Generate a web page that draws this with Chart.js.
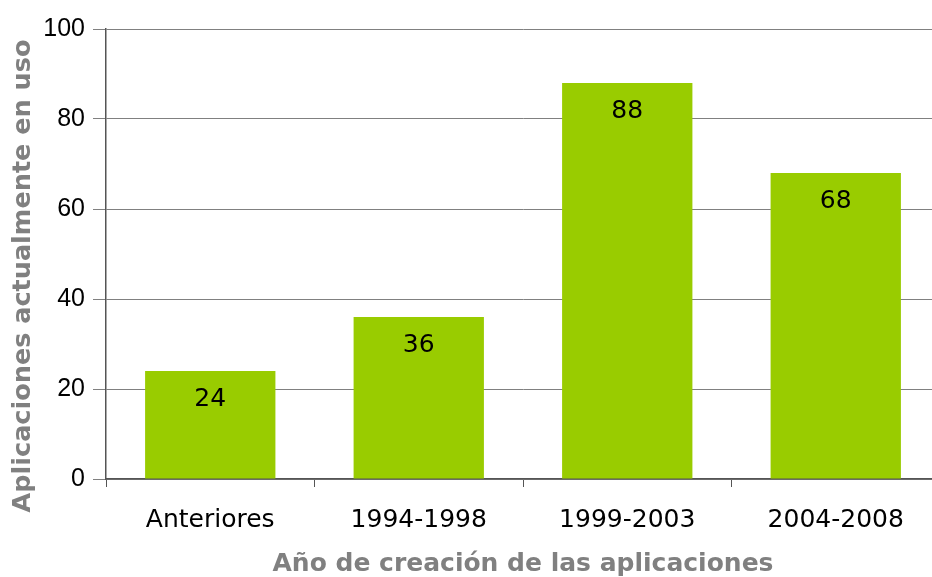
<!DOCTYPE html>
<html>
<head>
<meta charset="utf-8">
<script src="https://cdn.jsdelivr.net/npm/chart.js@4"></script>
<style>
  html, body { margin: 0; padding: 0; background: #fff; overflow: hidden; }
  canvas { display: block; }
</style>
</head>
<body>
<canvas id="chart" width="940" height="577"></canvas>
<script>
var categorias = ['Anteriores', '1994-1998', '1999-2003', '2004-2008'];
var aplicaciones = [24, 36, 88, 68];
var ticksY = [0, 20, 40, 60, 80, 100];
var tituloY = 'Aplicaciones actualmente en uso';
var tituloX = 'Año de creación de las aplicaciones';

var GRIS = '#808080';
var EJE = '#555555';
var VERDANA = '"DejaVu Sans", Verdana, sans-serif';

// etiqueta con el valor dentro de cada barra, cerca del borde superior
var etiquetasBarras = {
  id: 'etiquetasBarras',
  afterDatasetsDraw: function(chart) {
    var ctx = chart.ctx;
    var meta = chart.getDatasetMeta(0);
    ctx.save();
    ctx.font = '25px ' + VERDANA;
    ctx.fillStyle = '#000';
    ctx.textAlign = 'center';
    ctx.textBaseline = 'middle';
    meta.data.forEach(function(bar, i) {
      ctx.fillText(String(aplicaciones[i]), bar.x, bar.y + 28);
    });
    ctx.restore();
  }
};

// titulo vertical del eje Y, algo mas abajo que el centro del area
var tituloEjeY = {
  id: 'tituloEjeY',
  afterDraw: function(chart) {
    var ctx = chart.ctx;
    ctx.save();
    ctx.translate(23, chart.chartArea.bottom - 203);
    ctx.rotate(-Math.PI / 2);
    ctx.font = 'bold 25.5px ' + VERDANA;
    ctx.fillStyle = GRIS;
    ctx.textAlign = 'center';
    ctx.textBaseline = 'middle';
    ctx.fillText(tituloY, 0, 0);
    ctx.restore();
  }
};

new Chart(document.getElementById('chart'), {
  type: 'bar',
  data: {
    labels: categorias,
    datasets: [{
      data: aplicaciones,
      backgroundColor: '#99cc00',
      borderWidth: 0,
      barPercentage: 0.625,
      categoryPercentage: 1
    }]
  },
  options: {
    responsive: false,
    animation: false,
    layout: { padding: { top: 29, right: 0, left: 8, bottom: 0 } },
    plugins: { legend: { display: false }, tooltip: { enabled: false } },
    scales: {
      x: {
        offset: true,
        afterFit: function(axis) { axis.height = 98; },
        grid: { display: true, drawOnChartArea: false, offset: true, color: EJE, tickLength: 8, lineWidth: 1 },
        border: { color: EJE, width: 1.5 },
        ticks: { color: '#000', font: { family: VERDANA, size: 25 }, padding: 18 },
        title: { display: true, text: tituloX, color: GRIS,
          font: { family: VERDANA, size: 25, weight: 'bold', lineHeight: 1 }, padding: { top: 8, bottom: 0 } }
      },
      y: {
        min: 0, max: 100,
        afterBuildTicks: function(axis) { axis.ticks = ticksY.map(function(v) { return { value: v }; }); },
        afterFit: function(axis) { axis.width = 98; },
        grid: { color: GRIS, lineWidth: 1, tickLength: 13 },
        border: { color: EJE, width: 1.5 },
        ticks: { color: '#000', font: { family: '"Liberation Sans", Arial, sans-serif', size: 25 }, padding: 8 }
      }
    }
  },
  plugins: [etiquetasBarras, tituloEjeY]
});
</script>
</body>
</html>
